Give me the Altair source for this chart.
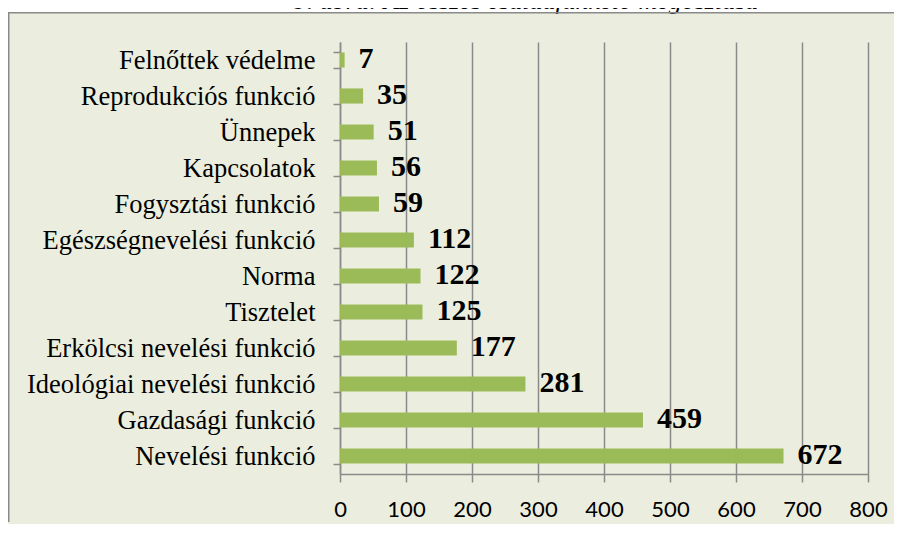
import altair as alt
import pandas as pd

title_text = "9. ábra: Az összes családfunkció megoszlása"
categories = [
    "Felnőttek védelme",
    "Reprodukciós funkció",
    "Ünnepek",
    "Kapcsolatok",
    "Fogysztási funkció",
    "Egészségnevelési funkció",
    "Norma",
    "Tisztelet",
    "Erkölcsi nevelési funkció",
    "Ideológiai nevelési funkció",
    "Gazdasági funkció",
    "Nevelési funkció",
]
values = [7, 35, 51, 56, 59, 112, 122, 125, 177, 281, 459, 672]
x_ticks = [0, 100, 200, 300, 400, 500, 600, 700, 800]

df = pd.DataFrame({"cat": categories, "val": values})

GRAY = "#8a8a8a"
BG = "#EBEEDE"
BAR = "#9BBB59"

x_enc = alt.X(
    "val:Q",
    scale=alt.Scale(domain=[0, 800], nice=False),
    axis=alt.Axis(
        values=x_ticks,
        title=None,
        grid=True,
        gridColor=GRAY,
        gridWidth=1.5,
        domainColor=GRAY,
        domainWidth=1.5,
        tickColor=GRAY,
        tickWidth=1.5,
        tickSize=8,
        labelFont="Lato",
        labelFontSize=22,
        labelColor="black",
        labelBaseline="middle",
        labelPadding=27,
        labelFlush=False,
        labelOverlap=False,
    ),
)
y_enc = alt.Y(
    "cat:N",
    sort=categories,
    scale=alt.Scale(paddingInner=0.58, paddingOuter=0.29),
    axis=alt.Axis(
        title=None,
        grid=False,
        tickBand="extent",
        domainColor=GRAY,
        domainWidth=1.5,
        tickColor=GRAY,
        tickWidth=1.5,
        tickSize=7,
        labelFont="Liberation Serif",
        labelFontSize=26.5,
        labelColor="black",
        labelPadding=18,
        labelLimit=400,
    ),
)

bars = alt.Chart(df).mark_bar(color=BAR).encode(x=x_enc, y=y_enc)

labels = alt.Chart(df).mark_text(
    align="left",
    baseline="middle",
    dx=14,
    dy=-1,
    font="Liberation Serif",
    fontWeight="bold",
    fontSize=30,
    color="black",
).encode(x=x_enc, y=y_enc, text="val:Q")

one = pd.DataFrame({"k": [0]})

strip = alt.Chart(one).mark_rect(color="white").encode(
    x=alt.value(-340), x2=alt.value(600), y=alt.value(-40), y2=alt.value(-30)
)

title = alt.Chart(one).mark_text(
    text=title_text,
    font="Liberation Serif",
    fontStyle="italic",
    fontSize=26,
    align="center",
    baseline="alphabetic",
    color="black",
).encode(x=alt.value(186), y=alt.value(-33))

top_border = alt.Chart(one).mark_rule(color=GRAY, strokeWidth=1.5).encode(
    x=alt.value(-332), x2=alt.value(600), y=alt.value(-29.25)
)
left_border = alt.Chart(one).mark_rule(color=GRAY, strokeWidth=1.5).encode(
    x=alt.value(-331.25), y=alt.value(-30), y2=alt.value(480)
)

chart = (
    alt.layer(bars, labels, strip, title, top_border, left_border)
    .properties(
        width=528,
        height=432,
        autosize="none",
        padding={"left": 332, "top": 34, "right": 26, "bottom": 50},
        background=BG,
    )
    .configure_view(strokeWidth=0)
)

chart.save("out.html", embed_options={"renderer": "svg", "actions": False})
